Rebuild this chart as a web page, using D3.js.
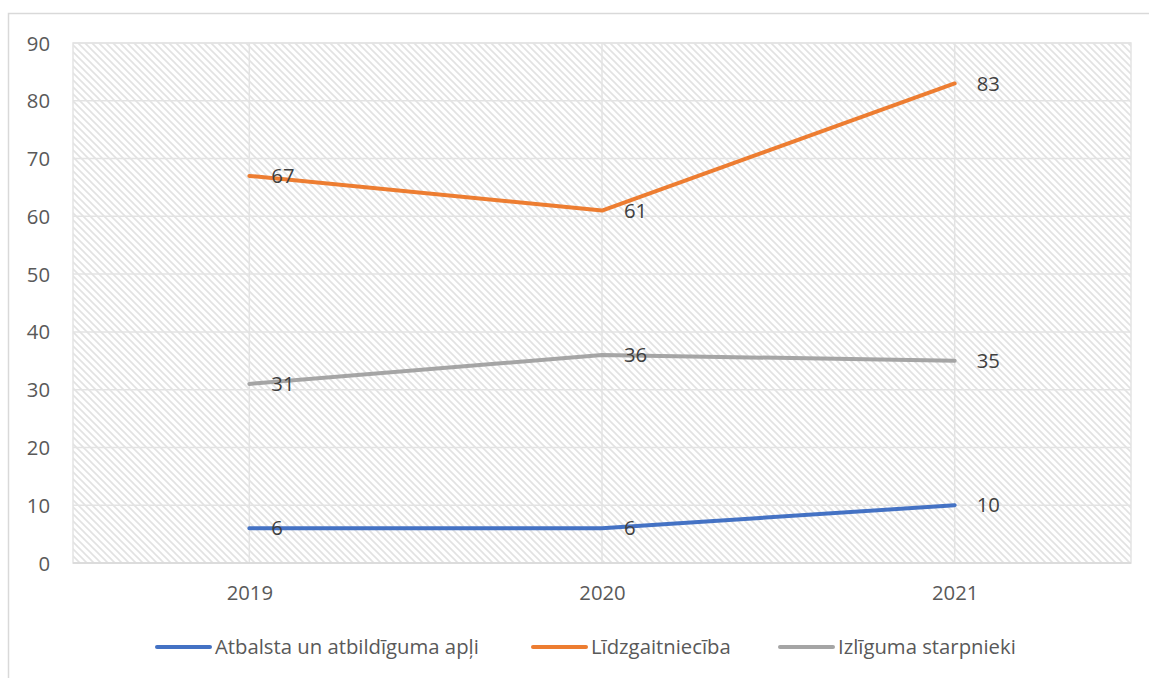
<!DOCTYPE html>
<html>
<head>
<meta charset="utf-8">
<script src="https://cdn.jsdelivr.net/npm/d3@7"></script>
<style>
  body { margin: 0; background: #fff; }
  text { font-family: "Open Sans", "Liberation Sans", Arial, sans-serif; fill: #595959; }
</style>
</head>
<body>
<script>
var years = ['2019', '2020', '2021'];
var seriesNames = ['Atbalsta un atbildīguma apļi', 'Līdzgaitniecība', 'Izlīguma starpnieki'];
var atbalsta = [6, 6, 10];
var lidzgait = [67, 61, 83];
var izliguma = [31, 36, 35];
var yTicks = [0, 10, 20, 30, 40, 50, 60, 70, 80, 90];
var colors = ['#4472C4', '#ED7D31', '#A5A5A5'];

var W = 1149, H = 678;
var plot = { left: 73, right: 1131, top: 43, bottom: 563 };
var fontSize = 20.3;

var svg = d3.select('body').append('svg')
  .attr('width', W)
  .attr('height', H);

// hatch pattern for the plot area
var defs = svg.append('defs');
var pat = defs.append('pattern')
  .attr('id', 'hatch')
  .attr('patternUnits', 'userSpaceOnUse')
  .attr('width', 7)
  .attr('height', 7);
pat.append('rect').attr('width', 7).attr('height', 7).attr('fill', '#fff');
pat.append('path')
  .attr('d', 'M-1,-1 L8,8 M-1,6 L1,8 M6,-1 L8,1')
  .attr('stroke', '#e2e2e2')
  .attr('stroke-width', 1.6);

// outer chart frame
svg.append('path')
  .attr('d', 'M8.5,' + H + ' L8.5,13.5 L' + W + ',13.5')
  .attr('fill', 'none')
  .attr('stroke', '#d9d9d9')
  .attr('stroke-width', 1.5);

var x = d3.scalePoint()
  .domain(years)
  .range([plot.left, plot.right])
  .padding(0.5);

var y = d3.scaleLinear()
  .domain([0, 90])
  .range([plot.bottom, plot.top]);

svg.append('rect')
  .attr('x', plot.left)
  .attr('y', plot.top)
  .attr('width', plot.right - plot.left)
  .attr('height', plot.bottom - plot.top)
  .attr('fill', 'url(#hatch)');

// horizontal gridlines
svg.append('g')
  .selectAll('line')
  .data(yTicks)
  .enter().append('line')
  .attr('x1', plot.left)
  .attr('x2', plot.right)
  .attr('y1', function(d) { return y(d); })
  .attr('y2', function(d) { return y(d); })
  .attr('stroke', '#e3e3e3')
  .attr('stroke-width', 1.5);

// vertical gridlines at the categories
svg.append('g')
  .selectAll('line')
  .data(years)
  .enter().append('line')
  .attr('x1', function(d) { return x(d); })
  .attr('x2', function(d) { return x(d); })
  .attr('y1', plot.top)
  .attr('y2', plot.bottom)
  .attr('stroke', '#e3e3e3')
  .attr('stroke-width', 1.5);

// plot border
svg.append('rect')
  .attr('x', plot.left)
  .attr('y', plot.top)
  .attr('width', plot.right - plot.left)
  .attr('height', plot.bottom - plot.top)
  .attr('fill', 'none')
  .attr('stroke', '#e3e3e3')
  .attr('stroke-width', 1.5);

// bottom axis line
svg.append('line')
  .attr('x1', plot.left)
  .attr('x2', plot.right)
  .attr('y1', plot.bottom)
  .attr('y2', plot.bottom)
  .attr('stroke', '#d9d9d9')
  .attr('stroke-width', 1.5);

// y axis labels
var yAxis = svg.append('g')
  .attr('transform', 'translate(50,0)')
  .call(d3.axisLeft(y).tickValues(yTicks).tickSize(0).tickPadding(0));
yAxis.select('.domain').remove();
yAxis.selectAll('text')
  .attr('font-size', fontSize)
  .attr('font-family', null)
  .attr('dy', '0.35em');

// x axis labels
var xAxis = svg.append('g')
  .attr('transform', 'translate(0,' + plot.bottom + ')')
  .call(d3.axisBottom(x).tickSize(0).tickPadding(0));
xAxis.select('.domain').remove();
xAxis.selectAll('text')
  .attr('font-size', fontSize)
  .attr('font-family', null)
  .attr('y', 30)
  .attr('dy', '0.35em');

var series = [atbalsta, lidzgait, izliguma];

var line = d3.line()
  .x(function(d, i) { return x(years[i]); })
  .y(function(d) { return y(d); });

series.forEach(function(vals, si) {
  svg.append('path')
    .datum(vals)
    .attr('d', line)
    .attr('fill', 'none')
    .attr('stroke', colors[si])
    .attr('stroke-width', 4)
    .attr('stroke-linecap', 'round')
    .attr('stroke-linejoin', 'round');
});

// data labels, to the right of each point
series.forEach(function(vals, si) {
  svg.append('g')
    .selectAll('text')
    .data(vals)
    .enter().append('text')
    .attr('x', function(d, i) { return x(years[i]) + 22; })
    .attr('y', function(d) { return y(d); })
    .attr('dy', '0.35em')
    .attr('font-size', fontSize)
    .style('fill', '#404040')
    .text(function(d) { return d; });
});

// legend
var legendX = [157, 533, 780];
var legend = svg.append('g');
seriesNames.forEach(function(name, i) {
  var g = legend.append('g').attr('transform', 'translate(' + legendX[i] + ',647)');
  g.append('line')
    .attr('x1', 0).attr('x2', 53)
    .attr('y1', 0).attr('y2', 0)
    .attr('stroke', colors[i])
    .attr('stroke-width', 4)
    .attr('stroke-linecap', 'round');
  g.append('text')
    .attr('x', 58)
    .attr('dy', '0.35em')
    .attr('font-size', fontSize)
    .text(name);
});
</script>
</body>
</html>
